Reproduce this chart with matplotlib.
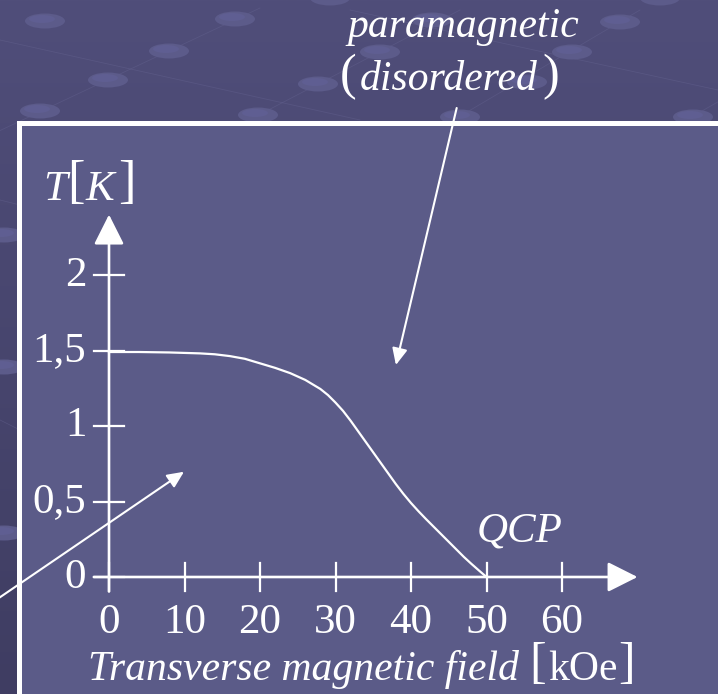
import matplotlib
matplotlib.use("Agg")
import matplotlib.pyplot as plt
from matplotlib.colors import LinearSegmentedColormap
from matplotlib.patches import Rectangle, Ellipse
import numpy as np

plt.rcParams["font.family"] = "Liberation Serif"

# phase boundary T_c(H): field in kOe, temperature in K
field = [0, 4, 8, 12, 14, 16, 18, 20, 22, 24, 26, 28, 29, 30, 31, 32, 33, 34, 35,
         36, 37, 38, 39, 40, 41, 42, 43, 44, 45, 46, 47, 48, 49, 50]
temp = [1.49, 1.49, 1.487, 1.481, 1.475, 1.463, 1.445, 1.415, 1.385, 1.35, 1.305,
        1.245, 1.205, 1.155, 1.1, 1.035, 0.965, 0.895, 0.825, 0.755, 0.685, 0.615,
        0.55, 0.49, 0.435, 0.383, 0.333, 0.283, 0.233, 0.183, 0.133, 0.087, 0.043, 0.0]

x_ticks = [0, 10, 20, 30, 40, 50, 60]
x_tick_labels = ["0", "10", "20", "30", "40", "50", "60"]
y_ticks = [0, 0.5, 1, 1.5, 2]
y_tick_labels = ["0", "0,5", "1", "1,5", "2"]

W, H = 718, 694
fig = plt.figure(figsize=(W / 100, H / 100), dpi=100)

# slide background in pixel coordinates
bg = fig.add_axes([0, 0, 1, 1])
bg.set_xlim(0, W)
bg.set_ylim(H, 0)
bg.axis("off")
cmap = LinearSegmentedColormap.from_list("slide", ["#504e7a", "#3f3d62"])
bg.imshow(np.linspace(0, 1, 256)[:, None], cmap=cmap, aspect="auto",
          extent=(0, W, H, 0), zorder=0)

# faint network pattern
for x0, y0, x1, y1 in [(-20, 140, 260, 8), (230, 130, 460, 10), (440, 128, 640, 10),
                       (660, 135, 730, 95), (0, 40, 360, 120), (350, 10, 718, 90),
                       (0, 200, 20, 205), (0, 420, 20, 430)]:
    bg.plot([x0, x1], [y0, y1], color="#6a6996", lw=0.6, alpha=0.35, zorder=1)
for cx, cy in [(45, 21), (235, 19), (169, 51), (108, 80), (40, 111), (318, 84),
               (258, 115), (620, 22), (572, 52), (460, 117), (693, 117), (527, 82),
               (432, 20), (380, 52), (4, 235), (4, 367), (4, 533), (660, -2), (330, -2)]:
    bg.add_patch(Ellipse((cx, cy), 40, 15, facecolor="#5c5b8a", edgecolor="none", zorder=2))
    bg.add_patch(Ellipse((cx - 3, cy - 2), 26, 8, facecolor="#63629a", edgecolor="none",
                         alpha=0.5, zorder=2))

bg.add_patch(Rectangle((18.5, 123), W, H, facecolor="#5b5b88", edgecolor="white",
                       lw=3.6, zorder=3))


def piece(x, y, s, size=30, italic=False, ha="center", va="baseline"):
    bg.text(x, y, s, fontsize=size, style="italic" if italic else "normal",
            ha=ha, va=va, color="white", zorder=5)


# labels with tall upright brackets around italic symbols
piece(55, 200, "T", 31, italic=True)
piece(76, 184, "[", 38, va="center")
piece(100, 200, "K", 31, italic=True)
piece(127, 184, "]", 38, va="center")

piece(463, 37, "paramagnetic", 30, italic=True)
piece(348, 77, "(", 36, va="center")
piece(449, 90, "disordered", 30, italic=True)
piece(551, 77, ")", 36, va="center")

piece(520, 541, "QCP", 31, italic=True)

piece(304, 680, "Transverse magnetic field", 30, italic=True)
piece(538, 665, "[", 36, va="center")
piece(583, 680, "kOe", 30)
piece(627, 665, "]", 36, va="center")

# data axes: 7.55 px per kOe, 151 px per K, origin at (109, 577) px
ax = fig.add_axes([0, 0, 1, 1])
ax.set_xlim(-109 / 7.55, (W - 109) / 7.55)
ax.set_ylim((577 - H) / 151, 577 / 151)
ax.axis("off")
ax.patch.set_alpha(0)

axis_arrow = dict(arrowstyle="-|>,head_length=18.5,head_width=9.3", mutation_scale=1,
                  color="white", lw=1.9, shrinkA=0, shrinkB=0)
ax.annotate("", xy=(70, 0), xytext=(-2, 0), arrowprops=axis_arrow)
ax.annotate("", xy=(0, 2.4), xytext=(0, -0.096), arrowprops=axis_arrow)

for t, lab in zip(x_ticks, x_tick_labels):
    ax.plot([t, t], [-0.096, 0.096], color="white", lw=1.6)
    ax.text(t, -56 / 151, lab, ha="center", va="baseline", fontsize=31, color="white")
for t, lab in zip(y_ticks, y_tick_labels):
    ax.plot([-2, 2], [t, t], color="white", lw=1.6)
    ax.text(-3.0, t - 10.5 / 151, lab, ha="right", va="baseline", fontsize=31, color="white")

ax.plot(field, temp, color="white", lw=1.6)

pointer = dict(arrowstyle="-|>,head_length=10,head_width=4.6", mutation_scale=1,
               color="white", lw=1.5, shrinkA=0, shrinkB=0)
ax.annotate("", xy=(38.0, 1.404), xytext=(46.05, 3.106), arrowprops=pointer)
ax.annotate("", xy=(9.93, 0.697), xytext=(-15.2, -0.16), arrowprops=pointer,
            annotation_clip=False)

fig.savefig("out.png", dpi=100)
